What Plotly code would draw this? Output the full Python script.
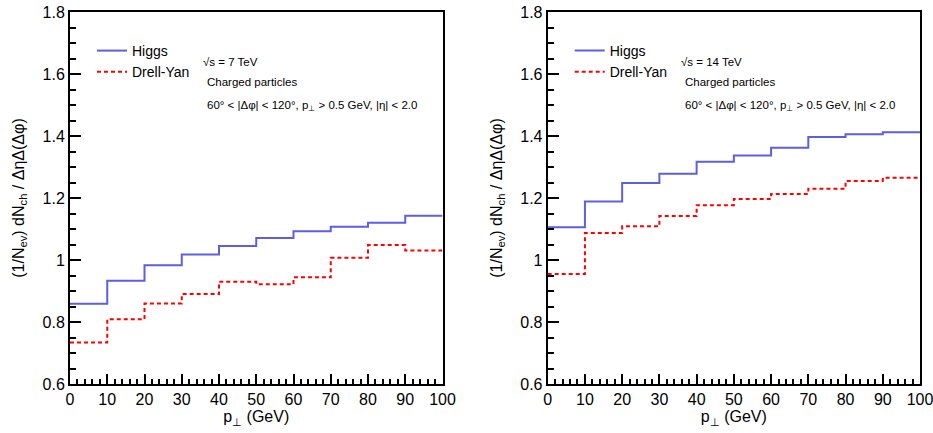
import plotly.graph_objects as go

# Bin edges in transverse momentum (GeV)
pt_edges = [0, 10, 20, 30, 40, 50, 60, 70, 80, 90, 100]

# sqrt(s) = 7 TeV
higgs_7 = [0.859, 0.933, 0.983, 1.018, 1.045, 1.071, 1.093, 1.107, 1.120, 1.143]
dy_7 = [0.734, 0.809, 0.860, 0.890, 0.930, 0.922, 0.944, 1.007, 1.048, 1.031]

# sqrt(s) = 14 TeV
higgs_14 = [1.106, 1.189, 1.248, 1.278, 1.317, 1.337, 1.362, 1.397, 1.406, 1.412]
dy_14 = [0.955, 1.087, 1.109, 1.142, 1.177, 1.197, 1.213, 1.230, 1.255, 1.265]

energies = ["7", "14"]
x_ticks = [0, 10, 20, 30, 40, 50, 60, 70, 80, 90, 100]
y_ticks = [0.6, 0.8, 1.0, 1.2, 1.4, 1.6, 1.8]
y_tick_text = ["0.6", "0.8", "1", "1.2", "1.4", "1.6", "1.8"]

FONT = "Liberation Sans, Arial, Helvetica, sans-serif"
BLUE = "#5e5ee2"
RED = "#ff0000"

W, H = 933, 433
panels = [
    dict(x0=70, x1=442.5, higgs=higgs_7, dy=dy_7, legend="legend", xa="x", ya="y"),
    dict(x0=547.7, x1=920, higgs=higgs_14, dy=dy_14, legend="legend2", xa="x2", ya="y2"),
]
y_top, y_bot = 12, 384

fig = go.Figure()


def step(vals):
    # histogram drawn as a step line: repeat the last bin content at the upper edge
    return list(vals) + [vals[-1]]


for p in panels:
    fig.add_trace(go.Scatter(
        x=pt_edges, y=step(p["higgs"]), mode="lines", line_shape="hv",
        line=dict(color=BLUE, width=2), name="Higgs",
        xaxis=p["xa"], yaxis=p["ya"], legend=p["legend"]))
    fig.add_trace(go.Scatter(
        x=pt_edges, y=step(p["dy"]), mode="lines", line_shape="hv",
        line=dict(color=RED, width=2, dash="4px,3px"), name="Drell-Yan",
        xaxis=p["xa"], yaxis=p["ya"], legend=p["legend"]))

axis_common = dict(
    showgrid=False, zeroline=False, showline=True, linecolor="black", linewidth=2,
    mirror=True, ticks="inside", tickcolor="black", tickwidth=1.5, automargin=False,
    ticklabeloverflow="allow",
    tickfont=dict(family=FONT, size=16, color="black"),
)

layout = dict(
    width=W, height=H, margin=dict(l=0, r=0, t=0, b=0),
    paper_bgcolor="white", plot_bgcolor="white",
    font=dict(family=FONT, color="black"),
)

ydom = [1 - y_bot / H, 1 - y_top / H]
for i, p in enumerate(panels):
    sfx = "" if i == 0 else str(i + 1)
    layout["xaxis" + sfx] = dict(
        axis_common, domain=[p["x0"] / W, p["x1"] / W], range=[0, 100],
        tickvals=x_ticks, ticklen=10,
        minor=dict(dtick=2, ticks="inside", ticklen=5, tickcolor="black", tickwidth=1.5),
        anchor="y" + sfx,
        title=dict(text="p<sub>⊥</sub> (GeV)", font=dict(family=FONT, size=16), standoff=4),
    )
    layout["yaxis" + sfx] = dict(
        axis_common, domain=ydom, range=[0.6, 1.8],
        tickvals=y_ticks, ticktext=y_tick_text, ticklen=11,
        minor=dict(dtick=0.05, ticks="inside", ticklen=6, tickcolor="black", tickwidth=1.5),
        anchor="x" + sfx,
        title=dict(text="(1/N<sub>ev</sub>) dN<sub>ch</sub> / ΔηΔ(Δφ)",
                   font=dict(family=FONT, size=16), standoff=14),
    )
    layout[p["legend"]] = dict(
        x=(p["x0"] + 22) / W, y=1 - 35 / H, xanchor="left", yanchor="top",
        bgcolor="rgba(0,0,0,0)", font=dict(family=FONT, size=14),
        itemwidth=30, tracegroupgap=0,
    )

fig.update_layout(**layout)

# Run conditions printed inside each frame
for p, e in zip(panels, energies):
    lines = [
        (62, "√s = %s TeV" % e, 131),
        (82, "Charged particles", 135),
        (106, "60° < |Δφ| < 120°, p<sub>⊥</sub> > 0.5 GeV, |η| < 2.0", 135),
    ]
    for ypix, txt, dx in lines:
        fig.add_annotation(
            x=(p["x0"] + dx) / W, y=1 - ypix / H, xref="paper", yref="paper",
            text=txt, showarrow=False, xanchor="left", yanchor="middle",
            font=dict(family=FONT, size=11.5, color="black"))

fig.write_html("out.html")
